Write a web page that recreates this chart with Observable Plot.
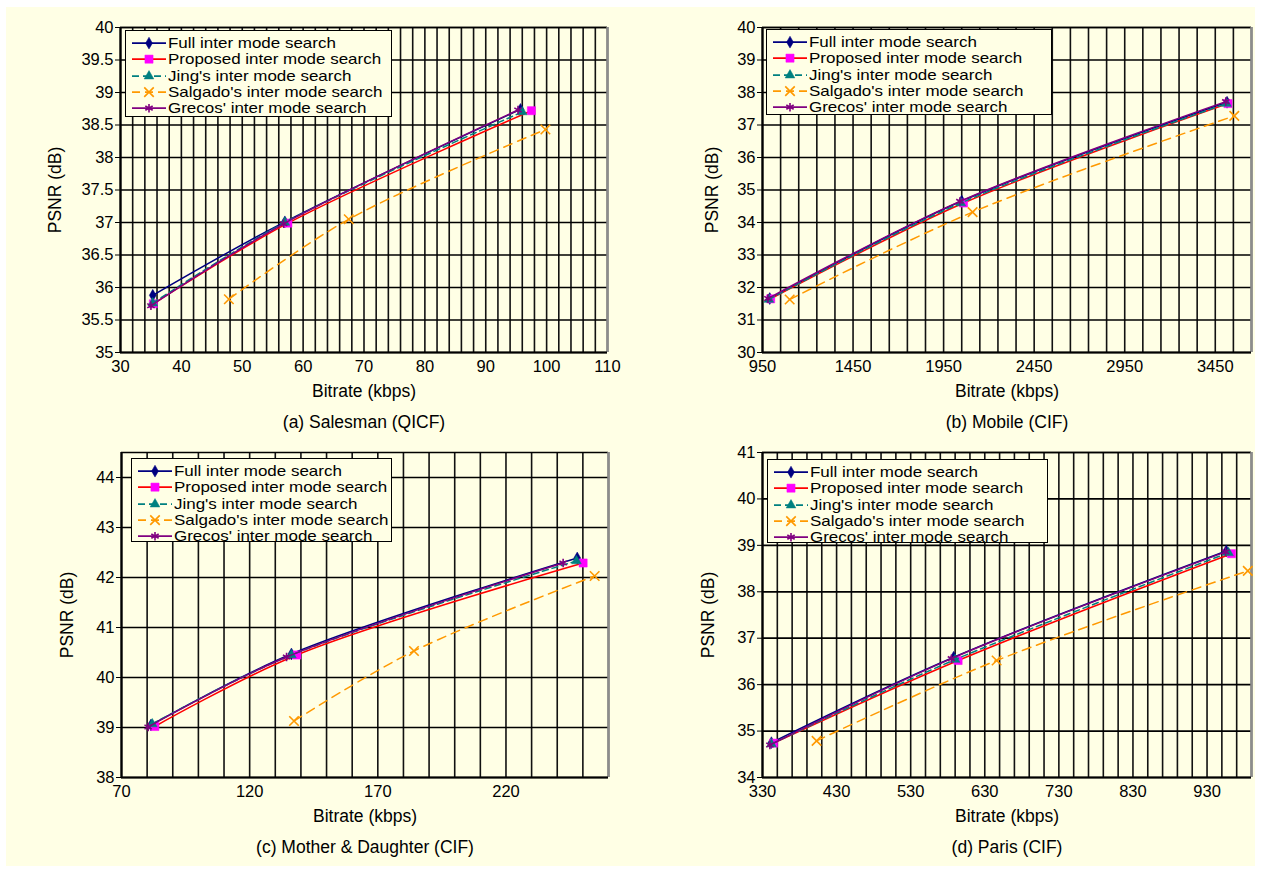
<!DOCTYPE html>
<html>
<head>
<meta charset="utf-8">
<script src="https://cdn.jsdelivr.net/npm/d3@7"></script>
<script src="https://cdn.jsdelivr.net/npm/@observablehq/plot@0.6"></script>
<style>
  html, body { margin: 0; padding: 0; background: #ffffff; }
  #page { position: relative; width: 1261px; height: 870px; overflow: hidden; font-family: "Liberation Sans", Arial, sans-serif; }
  #bg { position: absolute; left: 6px; top: 7px; width: 1249px; height: 859px; background: #FFFFE5; }
  .panel { position: absolute; }
  .legend { position: absolute; border: 1px solid #000; background: #FFFFE5; box-sizing: border-box; }
  .row { position: absolute; left: 0; height: 16.3px; white-space: nowrap; }
  .row svg { position: absolute; left: 5px; top: 0; }
  .row span { position: absolute; left: 42px; top: 0; font-size: 14.5px; line-height: 16.3px; color: #000;
              transform: scaleX(1.17); transform-origin: 0 50%; }
</style>
</head>
<body>
<div id="page"><div id="bg"></div></div>
<script>
// ---------- data ----------
const SERIES = ["Full inter mode search", "Proposed inter mode search", "Jing's inter mode search", "Salgado's inter mode search", "Grecos' inter mode search"];

// (a) Salesman (QICF)
const salesmanRate = [
  [35.3, 57.0, 95.7],
  [35.4, 57.5, 97.5],
  [35.3, 57.0, 96.0],
  [47.8, 67.5, 99.8],
  [35.0, 56.8, 95.3]
];
const salesmanPsnr = [
  [35.88, 37.01, 38.74],
  [35.75, 36.99, 38.72],
  [35.76, 37.00, 38.70],
  [35.82, 37.05, 38.43],
  [35.72, 36.98, 38.73]
];
const salesmanRateTicks = [30, 40, 50, 60, 70, 80, 90, 100, 110];
const salesmanPsnrTicks = [35, 35.5, 36, 36.5, 37, 37.5, 38, 38.5, 39, 39.5, 40];

// (b) Mobile (CIF)
const mobileRate = [
  [990, 2050, 3515],
  [995, 2060, 3520],
  [985, 2045, 3512],
  [1100, 2110, 3555],
  [980, 2040, 3508]
];
const mobilePsnr = [
  [31.66, 34.66, 37.70],
  [31.65, 34.60, 37.66],
  [31.63, 34.60, 37.66],
  [31.63, 34.32, 37.28],
  [31.66, 34.65, 37.72]
];
const mobileRateTicks = [950, 1450, 1950, 2450, 2950, 3450];
const mobilePsnrTicks = [30, 31, 32, 33, 34, 35, 36, 37, 38, 39, 40];

// (c) Mother & Daughter (CIF)
const motherRate = [
  [81.5, 136.3, 247.8],
  [83.0, 138.4, 250.1],
  [82.0, 136.3, 247.5],
  [137.3, 184.1, 254.6],
  [80.4, 134.4, 242.3]
];
const motherPsnr = [
  [39.05, 40.47, 42.39],
  [39.02, 40.45, 42.29],
  [39.07, 40.45, 42.33],
  [39.13, 40.53, 42.03],
  [39.01, 40.41, 42.29]
];
const motherRateTicks = [70, 120, 170, 220];
const motherPsnrTicks = [38, 39, 40, 41, 42, 43, 44];

// (d) Paris (CIF)
const parisRate = [
  [342, 588, 956],
  [345, 594, 963],
  [342, 590, 959],
  [403, 646, 985],
  [340, 585, 955]
];
const parisPsnr = [
  [34.75, 36.59, 38.88],
  [34.74, 36.52, 38.82],
  [34.72, 36.54, 38.84],
  [34.79, 36.52, 38.45],
  [34.70, 36.56, 38.86]
];
const parisRateTicks = [330, 430, 530, 630, 730, 830, 930];
const parisPsnrTicks = [34, 35, 36, 37, 38, 39, 40, 41];

// ---------- styles ----------
const FONT = "'Liberation Sans', Arial, sans-serif";
const LINE_COLOR = ["#000080", "#FF0000", "#008080", "#FF9900", "#800080"];
const MARK_COLOR = ["#000080", "#FF00FF", "#008080", "#FF9900", "#800080"];
const DASH = [null, null, "6,4", "9,6", null];
const SYMBOL = ["diamond", "square", "triangle", "times", "asterisk"];
const FILLED = [true, true, true, false, false];
const RADIUS = [3.6, 4.6, 3.6, 4.4, 4.0];
const D3SYM = [d3.symbolDiamond, d3.symbolSquare, d3.symbolTriangle, d3.symbolTimes, d3.symbolAsterisk];
const plain = d => String(d);

function panel(cfg) {
  const {rate, psnr, xDomain, xTicks, xStep, yDomain, yTicks, caption,
         left, top, width, height, fl, ft, fr, fb, ylabelDx} = cfg;
  const xGrid = d3.range(xDomain[0], xDomain[1] + xStep / 2, xStep);
  const marks = [
    Plot.gridX(xGrid, {stroke: "#111", strokeOpacity: 1, strokeWidth: 1.6}),
    Plot.gridY(yTicks, {stroke: "#000", strokeOpacity: 1, strokeWidth: 1.7}),
    Plot.ruleY([yDomain[1]], {stroke: "#000", strokeWidth: 1.7}),
    Plot.ruleX([xDomain[1]], {stroke: "#8c8c8c", strokeWidth: 2.5}),
    Plot.ruleX([xDomain[0]], {stroke: "#000", strokeWidth: 2.2}),
    Plot.ruleY([yDomain[0]], {stroke: "#000", strokeWidth: 2.2}),
    Plot.axisY(yTicks, {anchor: "left", tickSize: 5, tickPadding: 2, fontSize: 16.5, label: null, stroke: "#000", tickFormat: plain}),
    Plot.axisX(xTicks, {anchor: "bottom", tickSize: 0, tickPadding: 8, fontSize: 16.5, label: null, tickFormat: plain})
  ];
  SERIES.forEach((name, i) => {
    const pts = rate[i].map((r, j) => ({rate: r, psnr: psnr[i][j]}));
    marks.push(Plot.line(pts, {x: "rate", y: "psnr", stroke: LINE_COLOR[i], strokeWidth: 1.5,
      strokeDasharray: DASH[i], curve: "catmull-rom"}));
    marks.push(Plot.dot(pts, {x: "rate", y: "psnr", symbol: () => SYMBOL[i], r: RADIUS[i],
      fill: FILLED[i] ? MARK_COLOR[i] : "none", stroke: MARK_COLOR[i], strokeWidth: FILLED[i] ? 0.5 : 1.6}));
  });
  marks.push(Plot.text(["Bitrate (kbps)"], {text: d => d, frameAnchor: "bottom", dy: 39, lineAnchor: "middle", textAnchor: "middle", fontSize: 17.5, fill: "#000"}));
  marks.push(Plot.text([caption], {text: d => d, frameAnchor: "bottom", dy: 70, lineAnchor: "middle", textAnchor: "middle", fontSize: 17.5, fill: "#000"}));
  marks.push(Plot.text(["PSNR (dB)"], {text: d => d, frameAnchor: "left", dx: ylabelDx, rotate: -90, lineAnchor: "middle", textAnchor: "middle", fontSize: 17.5, fill: "#000"}));

  const svg = Plot.plot({
    width, height,
    marginLeft: fl - left, marginTop: ft - top, marginRight: left + width - fr, marginBottom: top + height - fb,
    x: {domain: xDomain, label: null},
    y: {domain: yDomain, label: null},
    style: {background: "transparent", fontFamily: FONT, fontSize: "16px", color: "#000", overflow: "visible"},
    marks
  });
  const div = document.createElement("div");
  div.className = "panel";
  div.style.left = left + "px";
  div.style.top = top + "px";
  div.appendChild(svg);
  document.getElementById("page").appendChild(div);
}

function legend(left, top, width, height) {
  const box = document.createElement("div");
  box.className = "legend";
  Object.assign(box.style, {left: left + "px", top: top + "px", width: width + "px", height: height + "px"});
  SERIES.forEach((name, i) => {
    const row = document.createElement("div");
    row.className = "row";
    row.style.top = (4 + i * 16.3) + "px";
    const s = d3.create("svg").attr("width", 36).attr("height", 16.3);
    s.append("line").attr("x1", 1).attr("x2", 35).attr("y1", 8.15).attr("y2", 8.15)
      .attr("stroke", LINE_COLOR[i]).attr("stroke-width", 1.6)
      .attr("stroke-dasharray", DASH[i] ? (i === 2 ? "7,4" : "8,5") : null);
    s.append("path").attr("transform", "translate(18,8.15)")
      .attr("d", d3.symbol(D3SYM[i], Math.PI * RADIUS[i] * RADIUS[i])())
      .attr("fill", FILLED[i] ? MARK_COLOR[i] : "none")
      .attr("stroke", MARK_COLOR[i]).attr("stroke-width", FILLED[i] ? 0.5 : 1.6);
    row.appendChild(s.node());
    const t = document.createElement("span");
    t.textContent = name;
    row.appendChild(t);
    box.appendChild(row);
  });
  document.getElementById("page").appendChild(box);
}

panel({rate: salesmanRate, psnr: salesmanPsnr, xDomain: [30, 110], xTicks: salesmanRateTicks, xStep: 2,
  yDomain: [35, 40], yTicks: salesmanPsnrTicks, caption: "(a) Salesman (QICF)",
  left: 0, top: 0, width: 630, height: 435, fl: 120, ft: 27, fr: 607, fb: 352, ylabelDx: -65});
panel({rate: mobileRate, psnr: mobilePsnr, xDomain: [950, 3650], xTicks: mobileRateTicks, xStep: 100,
  yDomain: [30, 40], yTicks: mobilePsnrTicks, caption: "(b) Mobile (CIF)",
  left: 630, top: 0, width: 631, height: 435, fl: 762, ft: 27, fr: 1251, fb: 352, ylabelDx: -50});
panel({rate: motherRate, psnr: motherPsnr, xDomain: [70, 260], xTicks: motherRateTicks, xStep: 10,
  yDomain: [38, 44.5], yTicks: motherPsnrTicks, caption: "(c) Mother & Daughter (CIF)",
  left: 0, top: 435, width: 630, height: 435, fl: 121, ft: 452, fr: 608, fb: 777, ylabelDx: -54});
panel({rate: parisRate, psnr: parisPsnr, xDomain: [330, 990], xTicks: parisRateTicks, xStep: 20,
  yDomain: [34, 41], yTicks: parisPsnrTicks, caption: "(d) Paris (CIF)",
  left: 630, top: 435, width: 631, height: 435, fl: 762, ft: 452, fr: 1251, fb: 777, ylabelDx: -54});

legend(125, 30, 267, 87);
legend(766, 29, 286, 86);
legend(131, 458, 261, 84);
legend(767, 459, 281, 84);
</script>
</body>
</html>
